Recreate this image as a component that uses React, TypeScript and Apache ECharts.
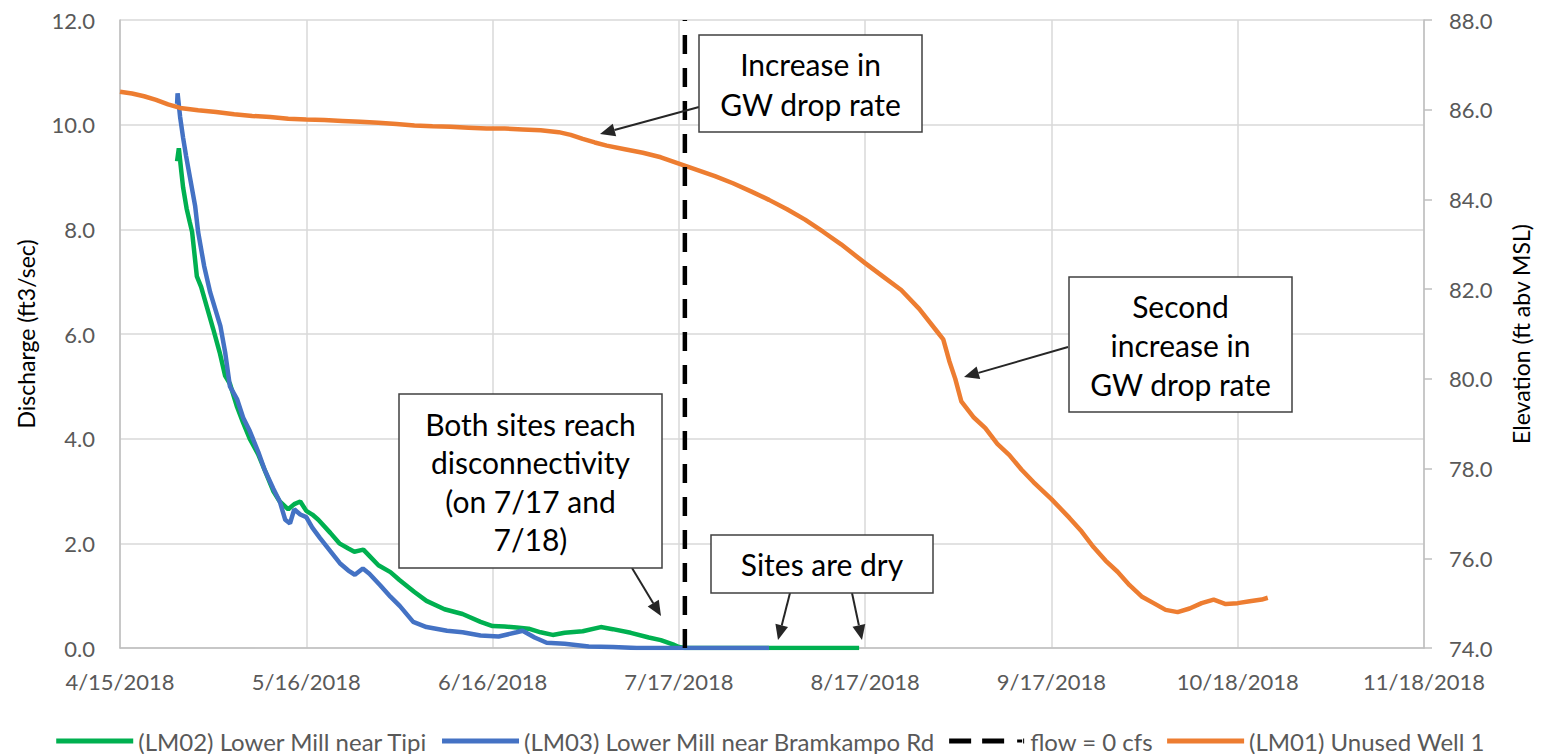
import React, { useEffect, useRef } from "react";
import * as echarts from "echarts";

// ---------- DATA ----------
const xTickStart = "2018-04-15";
const xTickEnd = "2018-11-18";
const xTickStepDays = 31;

const dischargeRange = [0, 12];
const elevationRange = [74, 88];

// (LM02) Lower Mill near Tipi — discharge (ft3/sec)
const lm02: [string, number][] = [
  ["2018-04-24T12:00", 9.3], ["2018-04-24T19:00", 9.55], ["2018-04-25T05:00", 9.1], ["2018-04-25T12:00", 8.8],
  ["2018-04-26T02:00", 8.4], ["2018-04-26T14:00", 8.15], ["2018-04-27T00:00", 7.95], ["2018-04-27T19:00", 7.1],
  ["2018-04-28T12:00", 6.9], ["2018-04-29T12:00", 6.5], ["2018-04-30T12:00", 6.1], ["2018-05-01T14:00", 5.65],
  ["2018-05-02T12:00", 5.2], ["2018-05-03T07:00", 5.05], ["2018-05-04T12:00", 4.6], ["2018-05-05T12:00", 4.3],
  ["2018-05-06T14:00", 4.0], ["2018-05-08T00:00", 3.7], ["2018-05-09T02:00", 3.4], ["2018-05-10T12:00", 3.0],
  ["2018-05-11T14:00", 2.8], ["2018-05-13T00:00", 2.65], ["2018-05-14T00:00", 2.75], ["2018-05-15T00:00", 2.8],
  ["2018-05-16T00:00", 2.62], ["2018-05-17T00:00", 2.55], ["2018-05-18T00:00", 2.45], ["2018-05-20T00:00", 2.2],
  ["2018-05-21T12:00", 2.0], ["2018-05-23T00:00", 1.9], ["2018-05-24T00:00", 1.84], ["2018-05-25T12:00", 1.88],
  ["2018-05-26T12:00", 1.76], ["2018-05-28T00:00", 1.58], ["2018-05-30T00:00", 1.45], ["2018-05-31T12:00", 1.3],
  ["2018-06-03T00:00", 1.07], ["2018-06-05T00:00", 0.9], ["2018-06-08T00:00", 0.74], ["2018-06-11T00:00", 0.65],
  ["2018-06-14T00:00", 0.5], ["2018-06-16T00:00", 0.42], ["2018-06-18T00:00", 0.41], ["2018-06-20T00:00", 0.39],
  ["2018-06-22T00:00", 0.37], ["2018-06-24T00:00", 0.3], ["2018-06-26T00:00", 0.25], ["2018-06-28T00:00", 0.29],
  ["2018-07-01T00:00", 0.32], ["2018-07-04T00:00", 0.4], ["2018-07-06T00:00", 0.36], ["2018-07-09T00:00", 0.29],
  ["2018-07-12T00:00", 0.2], ["2018-07-14T00:00", 0.15], ["2018-07-16T00:00", 0.07], ["2018-07-17T00:00", 0.02],
  ["2018-07-18T00:00", 0], ["2018-08-16T00:00", 0],
];

// (LM03) Lower Mill near Bramkampo Rd — discharge (ft3/sec)
const lm03: [string, number][] = [
  ["2018-04-24T12:00", 10.4], ["2018-04-24T14:00", 10.6], ["2018-04-25T00:00", 10.15], ["2018-04-25T12:00", 9.75],
  ["2018-04-26T00:00", 9.4], ["2018-04-26T17:00", 8.95], ["2018-04-27T12:00", 8.45], ["2018-04-28T00:00", 7.95],
  ["2018-04-29T00:00", 7.3], ["2018-04-30T00:00", 6.8], ["2018-05-01T17:00", 6.15], ["2018-05-02T12:00", 5.65],
  ["2018-05-03T07:00", 5.0], ["2018-05-04T12:00", 4.75], ["2018-05-05T12:00", 4.4], ["2018-05-06T14:00", 4.15],
  ["2018-05-08T00:00", 3.75], ["2018-05-09T02:00", 3.4], ["2018-05-10T12:00", 3.05], ["2018-05-11T14:00", 2.8],
  ["2018-05-12T12:00", 2.45], ["2018-05-13T07:00", 2.38], ["2018-05-14T00:00", 2.65], ["2018-05-15T00:00", 2.55],
  ["2018-05-16T00:00", 2.5], ["2018-05-17T00:00", 2.3], ["2018-05-18T07:00", 2.1], ["2018-05-20T00:00", 1.85],
  ["2018-05-21T14:00", 1.62], ["2018-05-23T00:00", 1.48], ["2018-05-24T02:00", 1.4], ["2018-05-25T10:00", 1.52],
  ["2018-05-26T12:00", 1.42], ["2018-05-28T07:00", 1.2], ["2018-05-30T00:00", 0.98], ["2018-05-31T14:00", 0.8],
  ["2018-06-02T19:00", 0.5], ["2018-06-05T00:00", 0.4], ["2018-06-08T10:00", 0.33], ["2018-06-11T00:00", 0.3],
  ["2018-06-14T00:00", 0.24], ["2018-06-17T00:00", 0.22], ["2018-06-20T00:00", 0.3], ["2018-06-21T00:00", 0.33],
  ["2018-06-23T00:00", 0.2], ["2018-06-25T00:00", 0.1], ["2018-06-28T00:00", 0.08], ["2018-07-02T00:00", 0.03],
  ["2018-07-06T00:00", 0.02], ["2018-07-10T00:00", 0], ["2018-08-01T00:00", 0],
];

// (LM01) Unused Well 1 — elevation (ft abv MSL)
const lm01: [string, number][] = [
  ["2018-04-15T00:00", 86.4], ["2018-04-17T00:00", 86.36], ["2018-04-19T00:00", 86.3], ["2018-04-21T00:00", 86.22],
  ["2018-04-23T00:00", 86.12], ["2018-04-25T00:00", 86.04], ["2018-04-28T00:00", 85.99], ["2018-05-01T00:00", 85.95],
  ["2018-05-04T00:00", 85.9], ["2018-05-07T00:00", 85.86], ["2018-05-10T00:00", 85.84], ["2018-05-13T00:00", 85.8],
  ["2018-05-16T00:00", 85.78], ["2018-05-19T00:00", 85.77], ["2018-05-22T00:00", 85.75], ["2018-05-25T00:00", 85.73],
  ["2018-05-28T00:00", 85.71], ["2018-05-31T00:00", 85.68], ["2018-06-03T00:00", 85.65], ["2018-06-06T00:00", 85.63],
  ["2018-06-09T00:00", 85.62], ["2018-06-12T00:00", 85.6], ["2018-06-15T00:00", 85.58], ["2018-06-18T00:00", 85.58],
  ["2018-06-21T00:00", 85.56], ["2018-06-24T00:00", 85.54], ["2018-06-27T00:00", 85.5], ["2018-06-29T00:00", 85.44],
  ["2018-07-01T00:00", 85.35], ["2018-07-03T00:00", 85.27], ["2018-07-05T00:00", 85.2], ["2018-07-08T00:00", 85.12],
  ["2018-07-11T00:00", 85.04], ["2018-07-14T00:00", 84.94], ["2018-07-17T00:00", 84.8], ["2018-07-20T00:00", 84.66],
  ["2018-07-23T00:00", 84.52], ["2018-07-26T00:00", 84.36], ["2018-07-29T00:00", 84.18], ["2018-08-01T00:00", 83.99],
  ["2018-08-04T00:00", 83.78], ["2018-08-07T00:00", 83.55], ["2018-08-10T00:00", 83.28], ["2018-08-13T00:00", 83.0],
  ["2018-08-17T00:00", 82.58], ["2018-08-20T00:00", 82.28], ["2018-08-23T00:00", 81.98], ["2018-08-26T00:00", 81.56],
  ["2018-08-29T00:00", 81.05], ["2018-08-30T00:00", 80.88], ["2018-08-31T00:00", 80.4], ["2018-09-01T00:00", 80.0],
  ["2018-09-02T00:00", 79.5], ["2018-09-04T00:00", 79.15], ["2018-09-06T00:00", 78.9], ["2018-09-08T00:00", 78.55],
  ["2018-09-10T00:00", 78.3], ["2018-09-12T00:00", 77.98], ["2018-09-14T00:00", 77.7], ["2018-09-17T00:00", 77.32],
  ["2018-09-20T00:00", 76.9], ["2018-09-22T00:00", 76.6], ["2018-09-24T00:00", 76.25], ["2018-09-26T00:00", 75.95],
  ["2018-09-28T00:00", 75.7], ["2018-09-30T00:00", 75.4], ["2018-10-02T00:00", 75.15], ["2018-10-04T00:00", 75.0],
  ["2018-10-06T00:00", 74.85], ["2018-10-08T00:00", 74.8], ["2018-10-10T00:00", 74.88], ["2018-10-12T00:00", 75.0],
  ["2018-10-14T00:00", 75.08], ["2018-10-16T00:00", 74.98], ["2018-10-18T00:00", 75.0], ["2018-10-20T00:00", 75.04],
  ["2018-10-22T00:00", 75.08], ["2018-10-23T00:00", 75.12],
];

// flow = 0 cfs marker
const flowZeroDate = "2018-07-18T00:00";
const flowZeroSpan = [0, 12];

const seriesNames = [
  "(LM02) Lower Mill near Tipi",
  "(LM03) Lower Mill near Bramkampo Rd",
  "flow = 0 cfs",
  "(LM01) Unused Well 1",
];

const annotations = [
  { lines: ["Increase in", "GW drop rate"] },
  { lines: ["Second", "increase in", "GW drop rate"] },
  { lines: ["Both sites reach", "disconnectivity", "(on 7/17 and", "7/18)"] },
  { lines: ["Sites are dry"] },
];

// ---------- HELPERS ----------
const DAY = 86400000;
const toMs = (s: string) => Date.parse(s.length > 10 ? s + ":00Z" : s + "T00:00:00Z");
const BASE = toMs(xTickStart);
const toDay = (s: string) => (toMs(s) - BASE) / DAY;
const conv = (arr: [string, number][]) => arr.map(([d, v]) => [toDay(d), v]);
const fmtDate = (v: number) => {
  const d = new Date(BASE + Math.round(v) * DAY);
  return `${d.getUTCMonth() + 1}/${d.getUTCDate()}/${d.getUTCFullYear()}`;
};

const FONT = "Lato";
const GREY = "#595959";

function arrow(x1: number, y1: number, x2: number, y2: number) {
  const len = 15, hw = 6.5;
  const dx = x2 - x1, dy = y2 - y1;
  const L = Math.hypot(dx, dy);
  const ux = dx / L, uy = dy / L;
  const bx = x2 - ux * len, by = y2 - uy * len;
  return [
    {
      type: "line",
      shape: { x1, y1, x2: bx, y2: by },
      style: { stroke: "#262626", lineWidth: 2 },
      z: 100,
    },
    {
      type: "polygon",
      shape: {
        points: [
          [x2, y2],
          [bx - uy * hw, by + ux * hw],
          [bx + uy * hw, by - ux * hw],
        ],
      },
      style: { fill: "#262626" },
      z: 100,
    },
  ];
}

function box(x: number, y: number, w: number, h: number, lines: string[], lineYs: number[]) {
  const els: any[] = [
    {
      type: "rect",
      shape: { x, y, width: w, height: h },
      style: { fill: "#ffffff", stroke: "#404040", lineWidth: 1.5 },
      z: 100,
    },
  ];
  lines.forEach((t, i) => {
    els.push({
      type: "text",
      x: x + w / 2,
      y: lineYs[i],
      style: {
        text: t,
        fill: "#000000",
        font: `30px ${FONT}`,
        textAlign: "center",
        textVerticalAlign: "middle",
      },
      z: 101,
    });
  });
  return els;
}

const solidIcon = "rect";
const dashIcon = "path://M0,0h22v5h-22zM33,0h22v5h-22zM68,1h5v3h-5zM74,0h1v5h-1z";

export default function App() {
  const ref = useRef<HTMLDivElement>(null);

  useEffect(() => {
    document.body.style.margin = "0";
    if (!ref.current) return;
    const chart = echarts.init(ref.current, undefined, { renderer: "svg" });

    const xMax = toDay(xTickEnd);

    const graphic: any[] = [
      ...arrow(699, 107, 600, 134),
      ...box(699, 35, 223, 97, annotations[0].lines, [64, 104]),
      ...arrow(1068, 347, 964, 377),
      ...box(1069, 277, 223, 135, annotations[1].lines, [306, 345, 384]),
      ...arrow(632, 568, 661, 616),
      ...box(399, 394, 263, 174, annotations[2].lines, [424, 462, 501, 539]),
      ...arrow(790, 593, 778, 640),
      ...arrow(852, 593, 862, 640),
      ...box(711, 535, 222, 58, annotations[3].lines, [564]),
    ];

    chart.setOption({
      animation: false,
      textStyle: { fontFamily: FONT },
      grid: {
        left: 120,
        right: 117,
        top: 20,
        bottom: 106,
        containLabel: false,
        outerBoundsMode: "none",
      },
      legend: {
        left: "center",
        top: 724,
        itemWidth: 77,
        itemHeight: 5,
        itemGap: 14,
        data: [
          { name: seriesNames[0], icon: solidIcon },
          { name: seriesNames[1], icon: solidIcon },
          { name: seriesNames[2], icon: dashIcon },
          { name: seriesNames[3], icon: solidIcon },
        ],
        textStyle: { color: GREY, fontSize: 24, fontFamily: FONT },
      },
      xAxis: {
        type: "value",
        min: 0,
        max: xMax,
        interval: xTickStepDays,
        axisLine: { show: true, lineStyle: { color: "#bfbfbf", width: 1.5 } },
        axisTick: { show: false },
        splitLine: { show: true, lineStyle: { color: "#d9d9d9", width: 1.5 } },
        axisLabel: {
          formatter: (v: number) => fmtDate(v),
          color: GREY,
          fontSize: 22,
          margin: 22,
          showMinLabel: true,
          showMaxLabel: true,
        },
      },
      yAxis: [
        {
          type: "value",
          min: dischargeRange[0],
          max: dischargeRange[1],
          interval: 2,
          name: "Discharge (ft3/sec)",
          nameLocation: "middle",
          nameGap: 83,
          nameRotate: 90,
          nameTextStyle: { color: "#000000", fontSize: 23, fontFamily: FONT },
          axisLine: { show: true, lineStyle: { color: "#bfbfbf", width: 1.5 } },
          axisTick: { show: false },
          splitLine: { show: true, lineStyle: { color: "#d9d9d9", width: 1.5 } },
          axisLabel: { formatter: (v: number) => v.toFixed(1), color: GREY, fontSize: 22, margin: 25 },
        },
        {
          type: "value",
          min: elevationRange[0],
          max: elevationRange[1],
          interval: 2,
          position: "right",
          name: "Elevation (ft abv MSL)",
          nameLocation: "middle",
          nameGap: 85,
          nameRotate: 90,
          nameTextStyle: { color: "#000000", fontSize: 23, fontFamily: FONT },
          axisLine: { show: true, lineStyle: { color: "#bfbfbf", width: 1.5 } },
          axisTick: { show: true, length: 8, lineStyle: { color: "#bfbfbf", width: 1.5 } },
          splitLine: { show: false },
          axisLabel: { formatter: (v: number) => v.toFixed(1), color: GREY, fontSize: 22, margin: 25 },
        },
      ],
      series: [
        {
          name: seriesNames[0],
          type: "line",
          yAxisIndex: 0,
          data: conv(lm02),
          symbol: "none",
          lineStyle: { color: "#00b050", width: 4.5 },
          itemStyle: { color: "#00b050" },
          z: 2,
        },
        {
          name: seriesNames[1],
          type: "line",
          yAxisIndex: 0,
          data: conv(lm03),
          symbol: "none",
          lineStyle: { color: "#4472c4", width: 4.5 },
          itemStyle: { color: "#4472c4" },
          z: 3,
        },
        {
          name: seriesNames[3],
          type: "line",
          yAxisIndex: 1,
          data: conv(lm01),
          symbol: "none",
          lineStyle: { color: "#ed7d31", width: 4.5 },
          itemStyle: { color: "#ed7d31" },
          z: 4,
        },
        {
          name: seriesNames[2],
          type: "line",
          yAxisIndex: 0,
          data: flowZeroSpan.map((v) => [toDay(flowZeroDate), v]),
          symbol: "none",
          lineStyle: { color: "#000000", width: 4.5, type: [19, 14] },
          itemStyle: { color: "#000000" },
          z: 5,
        },
      ],
      graphic,
    });

    return () => chart.dispose();
  }, []);

  return <div ref={ref} style={{ width: 1541, height: 754 }} />;
}
